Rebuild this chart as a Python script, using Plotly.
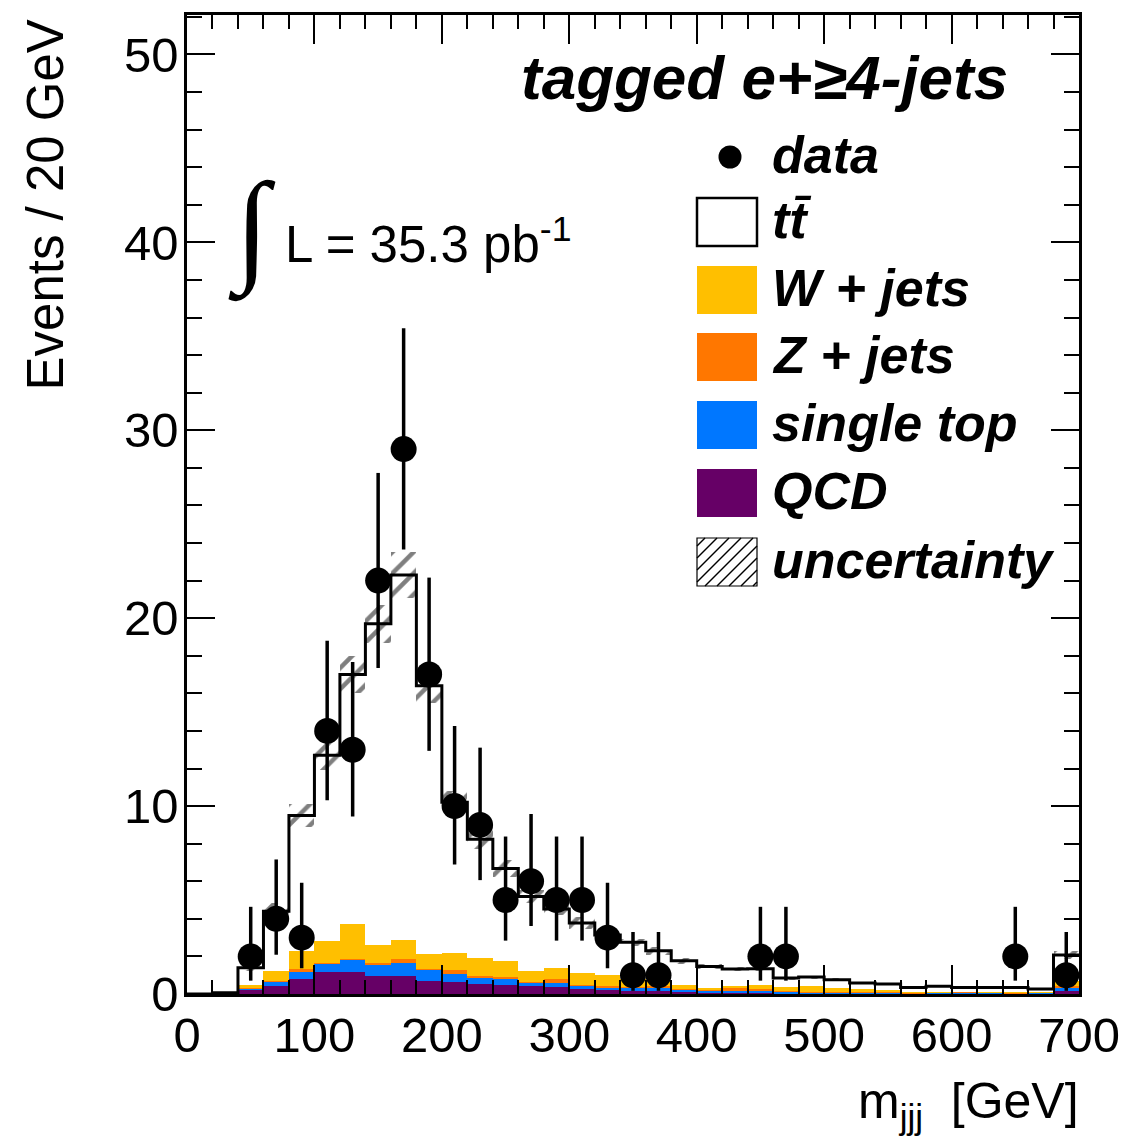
import plotly.graph_objects as go

# ---------------- data ----------------
bin_edges = list(range(0, 720, 20))
bin_centers = [e + 10 for e in bin_edges[:-1]]

qcd = [0.00, 0.04, 0.23, 0.44, 0.82, 1.15, 1.15, 0.97, 0.94, 0.71, 0.62, 0.53, 0.48, 0.41, 0.37,
       0.27, 0.20, 0.16, 0.14, 0.12, 0.10, 0.08, 0.07, 0.05, 0.05, 0.04, 0.03, 0.03, 0.02, 0.02,
       0.02, 0.02, 0.02, 0.02, 0.18]
single_top = [0.00, 0.01, 0.05, 0.23, 0.33, 0.47, 0.68, 0.61, 0.71, 0.58, 0.46, 0.37, 0.34, 0.21, 0.22,
              0.17, 0.17, 0.18, 0.18, 0.11, 0.08, 0.10, 0.13, 0.09, 0.05, 0.05, 0.05, 0.05, 0.03, 0.04,
              0.08, 0.04, 0.03, 0.06, 0.17]
z_jets = [0.00, 0.00, 0.02, 0.03, 0.18, 0.05, 0.05, 0.05, 0.21, 0.04, 0.18, 0.04, 0.07, 0.04, 0.21,
          0.03, 0.03, 0.03, 0.10, 0.02, 0.02, 0.14, 0.04, 0.02, 0.02, 0.01, 0.01, 0.01, 0.01, 0.01,
          0.01, 0.01, 0.01, 0.01, 0.05]
w_jets = [0.00, 0.01, 0.18, 0.50, 0.97, 1.17, 1.86, 0.99, 1.03, 0.82, 0.92, 0.97, 0.85, 0.58, 0.58,
          0.65, 0.63, 0.43, 0.34, 0.23, 0.12, 0.12, 0.26, 0.20, 0.28, 0.20, 0.18, 0.11, 0.06, 0.05,
          0.02, 0.05, 0.06, 0.03, 0.30]
ttbar = [0.00, 0.00, 0.92, 3.20, 7.20, 9.86, 13.26, 17.08, 19.41, 14.25, 8.02, 6.33, 4.94, 3.95, 3.14,
         2.66, 2.11, 1.95, 1.54, 1.29, 1.15, 0.89, 0.85, 0.49, 0.50, 0.46, 0.32, 0.33, 0.23, 0.29,
         0.22, 0.23, 0.23, 0.15, 1.37]
uncertainty = [0.00, 0.02, 0.15, 0.45, 0.60, 0.80, 1.00, 1.00, 1.20, 0.90, 0.60, 0.50, 0.45, 0.35, 0.30,
               0.30, 0.25, 0.20, 0.20, 0.15, 0.12, 0.12, 0.12, 0.08, 0.08, 0.07, 0.06, 0.05, 0.04, 0.04,
               0.04, 0.04, 0.04, 0.03, 0.20]

data_x = [50, 70, 90, 110, 130, 150, 170, 190, 210, 230, 250, 270, 290, 310, 330, 350, 370, 450, 470, 650, 690]
data_y = [2, 4, 3, 14, 13, 22, 29, 17, 10, 9, 5, 6, 5, 5, 3, 1, 1, 2, 2, 2, 1]
data_err_lo = [1.29, 1.91, 1.63, 3.69, 3.55, 4.65, 5.35, 4.06, 3.11, 2.94, 2.16, 2.38, 2.16, 2.16, 1.63,
               0.83, 0.83, 1.29, 1.29, 1.29, 0.83]
data_err_hi = [2.64, 3.16, 2.92, 4.80, 4.67, 5.73, 6.43, 5.16, 4.26, 4.11, 3.38, 3.58, 3.38, 3.38, 2.92,
               2.30, 2.30, 2.64, 2.64, 2.64, 2.30]

x_ticks = [0, 100, 200, 300, 400, 500, 600, 700]
y_ticks = [0, 10, 20, 30, 40, 50]

COL_W = "#FFBF00"
COL_Z = "#FF7700"
COL_ST = "#0077FF"
COL_QCD = "#660066"
FONT = "Liberation Sans, Arial, Helvetica, sans-serif"

total = [q + s + z + w + t for q, s, z, w, t in zip(qcd, single_top, z_jets, w_jets, ttbar)]

fig = go.Figure()

for name, vals, col in [("QCD", qcd, COL_QCD), ("single top", single_top, COL_ST),
                        ("Z + jets", z_jets, COL_Z), ("W + jets", w_jets, COL_W),
                        ("ttbar", ttbar, "white")]:
    fig.add_trace(go.Bar(x=bin_centers, y=vals, width=20, name=name,
                         marker=dict(color=col, line=dict(width=0))))

# uncertainty band (hatched)
fig.add_trace(go.Bar(x=bin_centers, y=[2 * u for u in uncertainty],
                     base=[t - u for t, u in zip(total, uncertainty)], width=20,
                     name="uncertainty",
                     marker=dict(color="rgba(0,0,0,0)", line=dict(width=0),
                                 pattern=dict(shape="/", fgcolor="black",
                                              bgcolor="rgba(0,0,0,0)", size=15, solidity=0.3))))

# total step outline
fig.add_trace(go.Scatter(x=bin_edges, y=total + [total[-1]], mode="lines",
                         line=dict(shape="hv", color="black", width=3), hoverinfo="skip"))

# data
fig.add_trace(go.Scatter(x=data_x, y=data_y, mode="markers", name="data",
                         marker=dict(color="black", size=26),
                         error_y=dict(type="data", symmetric=False, array=data_err_hi,
                                      arrayminus=data_err_lo, width=0, thickness=3.5, color="black")))

L, R, T, B = 187, 1079, 15, 994
W_, H_ = R - L, B - T


def px(x):
    return (x - L) / W_


def py(y):
    return (B - y) / H_


shapes = []
annotations = []

# Legend
rows = [("data", 157), ("tt", 222), ("W + jets", 290), ("Z + jets", 357),
        ("single top", 425), ("QCD", 493), ("uncertainty", 562)]
box_x0, box_x1, box_h = 697, 757, 48
for label, yc in rows:
    y0, y1 = yc - box_h / 2, yc + box_h / 2
    if label == "tt":
        shapes.append(dict(type="rect", xref="paper", yref="paper", x0=px(box_x0), x1=px(box_x1),
                           y0=py(y1), y1=py(y0), line=dict(color="black", width=2.5), fillcolor="white"))
    elif label in ("W + jets", "Z + jets", "single top", "QCD"):
        col = {"W + jets": COL_W, "Z + jets": COL_Z, "single top": COL_ST, "QCD": COL_QCD}[label]
        shapes.append(dict(type="rect", xref="paper", yref="paper", x0=px(box_x0), x1=px(box_x1),
                           y0=py(y1), y1=py(y0), line=dict(width=0), fillcolor=col))
    elif label == "uncertainty":
        shapes.append(dict(type="rect", xref="paper", yref="paper", x0=px(box_x0), x1=px(box_x1),
                           y0=py(y1), y1=py(y0), line=dict(color="black", width=1.2), fillcolor="white"))
        for c in range(box_x0 + int(y0) + 8, box_x1 + int(y1), 12):
            xs = max(box_x0, c - y1)
            xe = min(box_x1, c - y0)
            if xs < xe:
                shapes.append(dict(type="line", xref="paper", yref="paper",
                                   x0=px(xs), y0=py(c - xs), x1=px(xe), y1=py(c - xe),
                                   line=dict(color="black", width=1.5)))
    text = "tt\u0304" if label == "tt" else label
    annotations.append(dict(text="<b><i>%s</i></b>" % text, xref="paper", yref="paper",
                            x=px(770), y=py(yc - 2), xanchor="left", yanchor="middle", showarrow=False,
                            font=dict(family=FONT, size=52, color="black")))

# legend data marker
fig.add_trace(go.Scatter(x=[px(730)], y=[py(157)], xaxis="x2", yaxis="y2", mode="markers",
                         marker=dict(color="black", size=23), hoverinfo="skip"))

# title text
annotations.append(dict(text="<b><i>tagged e+\u22654-jets</i></b>", xref="paper", yref="paper",
                        x=px(1010), y=py(78), xanchor="right", yanchor="middle", showarrow=False,
                        font=dict(family=FONT, size=62, color="black")))
# luminosity
annotations.append(dict(text="\u222b", xref="paper", yref="paper", x=px(252), y=py(230),
                        xanchor="center", yanchor="middle", showarrow=False,
                        font=dict(family="Liberation Serif, DejaVu Serif", size=124, color="black")))
annotations.append(dict(text="L = 35.3 pb<sup>-1</sup>", xref="paper", yref="paper",
                        x=px(283), y=py(241), xanchor="left", yanchor="middle", showarrow=False,
                        font=dict(family=FONT, size=51, color="black")))
# axis titles
annotations.append(dict(text="Events / 20 GeV", xref="paper", yref="paper", x=px(45), y=py(18),
                        xanchor="center", yanchor="top", textangle=-90, showarrow=False,
                        font=dict(family=FONT, size=51, color="black")))
annotations.append(dict(text="m<sub>jjj</sub>  [GeV]", xref="paper", yref="paper", x=px(1081), y=py(1104),
                        xanchor="right", yanchor="middle", showarrow=False,
                        font=dict(family=FONT, size=50, color="black")))

axis_common = dict(showgrid=False, zeroline=False, showline=True, linecolor="black", linewidth=2.5,
                   mirror="ticks", ticks="inside", tickcolor="black", tickwidth=2, automargin=False,
                   tickfont=dict(family=FONT, size=49, color="black"))

fig.update_layout(
    width=1127, height=1142,
    margin=dict(l=L, r=1127 - R, t=T, b=1142 - B, autoexpand=False),
    plot_bgcolor="white", paper_bgcolor="white",
    barmode="stack", bargap=0, showlegend=False,
    xaxis=dict(range=[0, 700], tickvals=x_ticks, ticklen=29, ticklabelstandoff=-4,
               minor=dict(dtick=20, ticklen=14, tickwidth=2, ticks="inside", tickcolor="black"),
               **axis_common),
    yaxis=dict(range=[0, 52.1], tickvals=y_ticks, ticklen=28, ticklabelstandoff=-4,
               minor=dict(dtick=2, ticklen=15, tickwidth=2, ticks="inside", tickcolor="black"),
               **axis_common),
    xaxis2=dict(range=[0, 1], overlaying="x", visible=False, fixedrange=True),
    yaxis2=dict(range=[0, 1], overlaying="y", visible=False, fixedrange=True),
    shapes=shapes, annotations=annotations,
)

fig.write_html("out.html", config={"displayModeBar": False},
               post_script="document.body.style.margin='0';document.body.style.overflow='hidden';")
